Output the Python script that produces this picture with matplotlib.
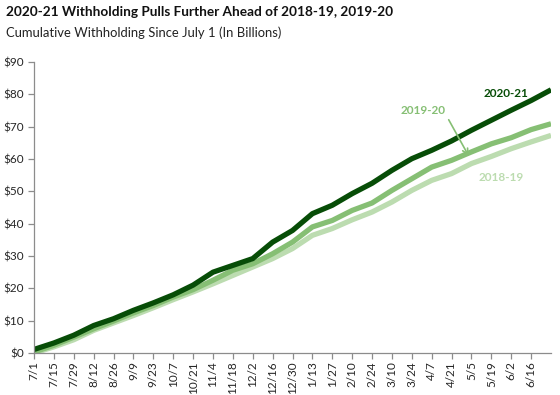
import matplotlib
matplotlib.use("Agg")
import matplotlib.pyplot as plt

tick_labels = ["7/1", "7/15", "7/29", "8/12", "8/26", "9/9", "9/23", "10/7", "10/21",
               "11/4", "11/18", "12/2", "12/16", "12/30", "1/13", "1/27", "2/10", "2/24",
               "3/10", "3/24", "4/7", "4/21", "5/5", "5/19", "6/2", "6/16"]
# day offsets since July 1 for each reading (every two weeks, plus June 30)
days = [0, 14, 28, 42, 56, 70, 84, 98, 112, 126, 140, 154, 168, 182, 196, 210,
        224, 238, 252, 266, 280, 294, 308, 322, 336, 350, 364]

fy2021 = [1.1, 3.1, 5.5, 8.5, 10.6, 13.2, 15.5, 18.0, 21.0, 25.0, 27.1, 29.2, 34.3,
          37.9, 43.1, 45.7, 49.3, 52.5, 56.5, 60.1, 62.7, 65.6, 68.9, 72.0, 75.1, 78.1, 81.4]
fy1920 = [0.3, 2.4, 4.9, 7.5, 9.9, 12.4, 14.7, 17.3, 19.6, 22.5, 25.6, 27.6, 30.7,
          34.3, 39.0, 41.0, 44.1, 46.4, 50.3, 53.9, 57.5, 59.6, 62.2, 64.7, 66.6, 69.1, 70.9]
fy1819 = [0.0, 1.9, 4.1, 7.0, 9.3, 11.6, 14.0, 16.5, 18.9, 21.4, 24.0, 26.6, 29.2,
          32.3, 36.4, 38.5, 41.2, 43.6, 46.7, 50.3, 53.4, 55.5, 58.6, 60.8, 63.2, 65.3, 67.3]

y_ticks = [0, 10, 20, 30, 40, 50, 60, 70, 80, 90]

c21 = "#074d07"
c20 = "#86bf74"
c19 = "#bcdcb0"

plt.rcParams['font.family'] = ['Lato', 'DejaVu Sans']

fig = plt.figure(figsize=(5.6, 3.95), dpi=100)
ax = fig.add_axes([0.0607, 0.1063, 0.9233, 0.7367])

ax.plot(days, fy1819, color=c19, lw=3.8, solid_capstyle="butt")
ax.plot(days, fy1920, color=c20, lw=3.8, solid_capstyle="butt")
ax.plot(days, fy2021, color=c21, lw=3.8, solid_capstyle="butt")

ax.set_xlim(0, 364)
ax.set_ylim(0, 90)
ax.set_yticks(y_ticks)
ax.set_yticklabels([f"${v}" for v in y_ticks])
ax.set_xticks(days[:len(tick_labels)])
ax.set_xticklabels(tick_labels, rotation=90)

for s in ["top", "right"]:
    ax.spines[s].set_visible(False)
for s in ["left", "bottom"]:
    ax.spines[s].set_color("#8c8c8c")
    ax.spines[s].set_linewidth(0.9)
ax.tick_params(axis="both", colors="#8c8c8c", length=4, width=0.9, labelsize=8.5,
               labelcolor="#262626", direction="out")
ax.tick_params(axis="y", pad=3)
ax.tick_params(axis="x", pad=2)

ax.text(332, 80.3, "2020-21", color=c21, fontsize=8.5, fontweight="bold",
        ha="center", va="center")
ax.text(274, 75.1, "2019-20", color=c20, fontsize=8.5, fontweight="bold",
        ha="center", va="center")
ax.text(329, 54.4, "2018-19", color=c19, fontsize=8.5, fontweight="bold",
        ha="center", va="center")
ax.annotate("", xy=(307, 60.2), xytext=(291, 72.9),
            arrowprops=dict(arrowstyle="->", color=c20, lw=1.2))

fig.text(6 / 560, 1 - 12 / 395, "2020-21 Withholding Pulls Further Ahead of 2018-19, 2019-20",
         fontsize=9.8, fontweight="bold", ha="left", va="center", color="#111111")
fig.text(6 / 560, 1 - 33 / 395, "Cumulative Withholding Since July 1 (In Billions)",
         fontsize=9.4, ha="left", va="center", color="#222222")

fig.savefig("out.png", dpi=100)
